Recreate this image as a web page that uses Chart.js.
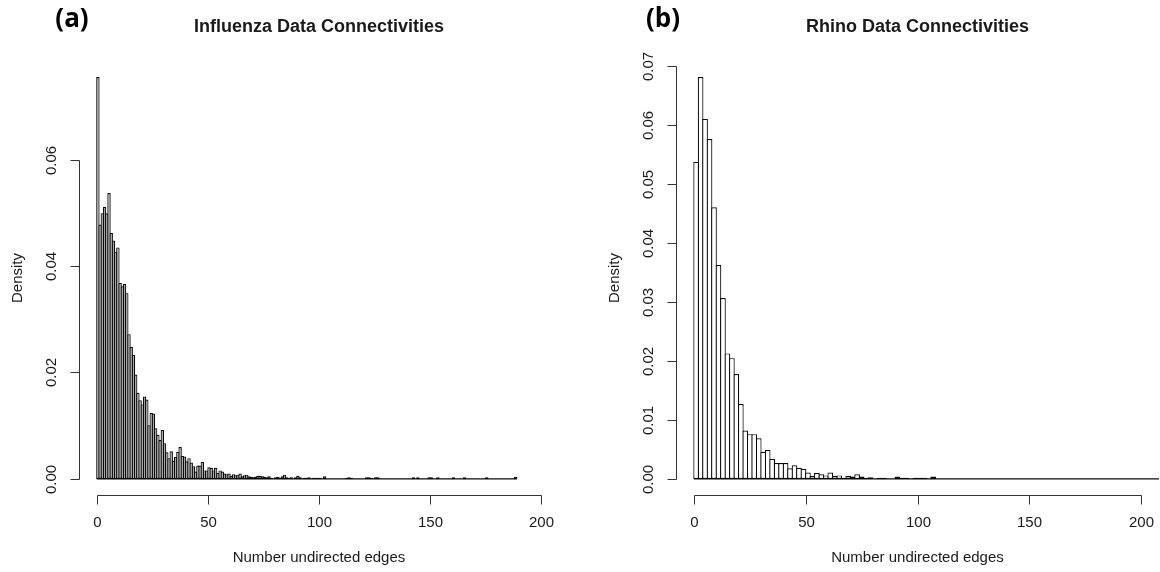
<!DOCTYPE html>
<html>
<head>
<meta charset="utf-8">
<script src="https://cdn.jsdelivr.net/npm/chart.js@4.4.1/dist/chart.umd.min.js"></script>
<style>
  html, body { margin: 0; padding: 0; background: #fff; }
  #wrap { position: relative; width: 1160px; height: 572px; }
  canvas { position: absolute; top: 0; }
</style>
</head>
<body>
<div id="wrap">
  <canvas id="histFlu" width="580" height="572" style="left:0"></canvas>
  <canvas id="histRhino" width="580" height="572" style="left:580px"></canvas>
</div>
<script>
// Influenza: density per bin of width 1, first break at 0
const fluBinWidth = 1;
const fluDensity = [
  0.0755, 0.0478, 0.0499, 0.0511, 0.0499, 0.0537, 0.0462, 0.0448, 0.0427, 0.0435,
  0.0368, 0.0362, 0.0366, 0.0349, 0.0272, 0.0248, 0.0233, 0.0196, 0.0162, 0.0148,
  0.0140, 0.0155, 0.0149, 0.0101, 0.0124, 0.0123, 0.0095, 0.0083, 0.0073, 0.0092,
  0.0067, 0.0050, 0.0039, 0.0052, 0.0034, 0.0041, 0.0051, 0.0060, 0.0043, 0.0042,
  0.0033, 0.0039, 0.0031, 0.0024, 0.0014, 0.0025, 0.0025, 0.0032, 0.0016, 0.0016,
  0.0022, 0.0021, 0.0016, 0.0021, 0.0011, 0.0016, 0.0014, 0.0010, 0.0009, 0.0010,
  0.0006, 0.0009, 0.0007, 0.0008, 0.0010, 0.0005, 0.0007, 0.0008, 0.0005, 0.0004,
  0.0003, 0.0004, 0.0006, 0.0006, 0.0005, 0.0004, 0.0003, 0.0005, 0.0002, 0,
  0.0003, 0.0004, 0.0002, 0.0005, 0.0008, 0.0003, 0.0002, 0.0003, 0, 0.0003,
  0.0006, 0.0003, 0, 0.0002, 0.0002, 0.0003, 0, 0.0002, 0.0002, 0.0002,
  0.0002, 0, 0.0005, 0, 0, 0, 0, 0, 0, 0,
  0, 0, 0.0002, 0.0003, 0.0002, 0, 0, 0, 0, 0,
  0, 0.0003, 0.0003, 0.0002, 0, 0.0003, 0.0003, 0, 0, 0,
  0, 0, 0, 0, 0, 0, 0, 0, 0, 0,
  0, 0, 0.0003, 0, 0.0003, 0, 0, 0, 0, 0.0003,
  0.0003, 0, 0, 0.0003, 0, 0, 0, 0, 0, 0,
  0.0003, 0, 0, 0, 0, 0.0003, 0, 0, 0, 0,
  0, 0, 0, 0, 0, 0.0003, 0, 0, 0, 0,
  0, 0, 0, 0, 0, 0, 0, 0, 0.0004
];

// Rhino: density per bin of width 2, first break at 0
const rhinoBinWidth = 2;
const rhinoDensity = [
  0.0538, 0.0682, 0.0611, 0.0577, 0.0461, 0.0363, 0.0307, 0.0213, 0.0205, 0.0178,
  0.0127, 0.0082, 0.0076, 0.0076, 0.0069, 0.0046, 0.0049, 0.0034, 0.0027, 0.0027,
  0.0027, 0.0018, 0.0023, 0.0019, 0.0017, 0.0011, 0.0005, 0.0010, 0.0008, 0.0006,
  0.0011, 0.0005, 0.0006, 0.0002, 0.0005, 0.0004, 0.0008, 0.0004, 0.0002, 0.0003,
  0, 0.0002, 0.0002, 0, 0, 0.0004, 0.0002, 0.0002, 0, 0.0002,
  0.0002, 0.0002, 0, 0.0004
];
const rhinoLastBreak = 240; // empty bins run past the plot edge

const xLimits = [0, 200];
const xTicks = [0, 50, 100, 150, 200];
const fluYTicks = [0, 0.02, 0.04, 0.06];
const rhinoYTicks = [0, 0.01, 0.02, 0.03, 0.04, 0.05, 0.06, 0.07];

const INK = '#1a1a1a';
const AXIS = '#333333';
const BAR_EDGE = '#0a0a0a';
const FONT = '"Liberation Sans", Arial, sans-serif';

// R-style axes: lines only span first..last tick, sit on the plot region edge
const rAxes = {
  id: 'rAxes',
  afterDraw(chart, args, o) {
    const { ctx, chartArea: a, scales: { x, y } } = chart;
    const crisp = v => Math.round(v) + 0.5;
    ctx.save();
    ctx.strokeStyle = AXIS;
    ctx.lineWidth = 1;
    ctx.fillStyle = INK;
    ctx.textAlign = 'center';
    ctx.textBaseline = 'middle';

    // x axis
    const xa = crisp(a.bottom);
    const xs = o.xTicks.map(v => crisp(x.getPixelForValue(v)));
    ctx.beginPath();
    ctx.moveTo(xs[0], xa); ctx.lineTo(xs[xs.length - 1], xa);
    xs.forEach(px => { ctx.moveTo(px, xa); ctx.lineTo(px, xa + 9); });
    ctx.stroke();
    ctx.font = '15px ' + FONT;
    o.xTicks.forEach((v, i) => ctx.fillText(String(v), xs[i], a.bottom + 28));
    ctx.fillText(o.xLabel, (a.left + a.right) / 2, a.bottom + 63);

    // y axis
    const ya = crisp(a.left);
    const ys = o.yTicks.map(v => crisp(y.getPixelForValue(v)));
    ctx.beginPath();
    ctx.moveTo(ya, ys[0]); ctx.lineTo(ya, ys[ys.length - 1]);
    ys.forEach(py => { ctx.moveTo(ya, py); ctx.lineTo(ya - 9, py); });
    ctx.stroke();
    o.yTicks.forEach((v, i) => {
      ctx.save();
      ctx.translate(a.left - 27, ys[i]);
      ctx.rotate(-Math.PI / 2);
      ctx.fillText(v.toFixed(2), 0, 0);
      ctx.restore();
    });
    ctx.save();
    ctx.translate(a.left - 61, (a.top + a.bottom) / 2);
    ctx.rotate(-Math.PI / 2);
    ctx.fillText(o.yLabel, 0, 0);
    ctx.restore();

    // titles
    ctx.font = 'bold 18px ' + FONT;
    ctx.fillText(o.title, (a.left + a.right) / 2, 27);
    ctx.fillStyle = '#000';
    ctx.font = 'bold 26px "Open Sans", sans-serif';
    ctx.fillText(o.panel, o.panelX, 20);
    ctx.restore();
  }
};

function histogram(id, binWidth, density, lastBreak, yTicks, pad, fill, labels) {
  const xMin = xLimits[0] - 0.04 * (xLimits[1] - xLimits[0]);
  const xMax = xLimits[1] + 0.04 * (xLimits[1] - xLimits[0]);
  const yMax = Math.max(...density);
  const canvas = document.getElementById(id);
  // widen bars by one pixel so neighbouring borders overlap like R's rect()
  const binPx = (canvas.width - pad.left - pad.right) * binWidth / (xMax - xMin);

  new Chart(canvas, {
    type: 'bar',
    data: {
      datasets: [
        {
          type: 'line',
          data: [{ x: 0, y: 0 }, { x: lastBreak, y: 0 }],
          borderColor: BAR_EDGE, borderWidth: 1.2, pointRadius: 0, order: 0
        },
        {
          type: 'bar',
          data: density.map((d, i) => ({ x: (i + 0.5) * binWidth, y: d })),
          backgroundColor: fill,
          borderColor: BAR_EDGE,
          borderWidth: 1.2,
          borderSkipped: false,
          inflateAmount: 0,
          barPercentage: (binPx + 1.2) / binPx,
          categoryPercentage: 1,
          order: 1
        }
      ]
    },
    options: {
      responsive: false,
      animation: false,
      devicePixelRatio: 1,
      layout: { padding: pad },
      scales: {
        x: { type: 'linear', min: xMin, max: xMax, offset: false, display: false },
        y: { type: 'linear', min: -0.04 * yMax, max: 1.04 * yMax, display: false }
      },
      plugins: {
        legend: { display: false },
        tooltip: { enabled: false },
        rAxes: Object.assign({ xTicks: xTicks, yTicks: yTicks }, labels)
      }
    },
    plugins: [rAxes]
  });
}

histogram('histFlu', fluBinWidth, fluDensity, fluDensity.length * fluBinWidth, fluYTicks,
  { left: 79, top: 61, right: 21, bottom: 77 }, '#a4a4a4',
  { title: 'Influenza Data Connectivities', xLabel: 'Number undirected edges', yLabel: 'Density', panel: '(a)', panelX: 72 });

histogram('histRhino', rhinoBinWidth, rhinoDensity, rhinoLastBreak, rhinoYTicks,
  { left: 96, top: 61, right: 1, bottom: 77 }, '#ffffff',
  { title: 'Rhino Data Connectivities', xLabel: 'Number undirected edges', yLabel: 'Density', panel: '(b)', panelX: 663 - 580 });
</script>
</body>
</html>
